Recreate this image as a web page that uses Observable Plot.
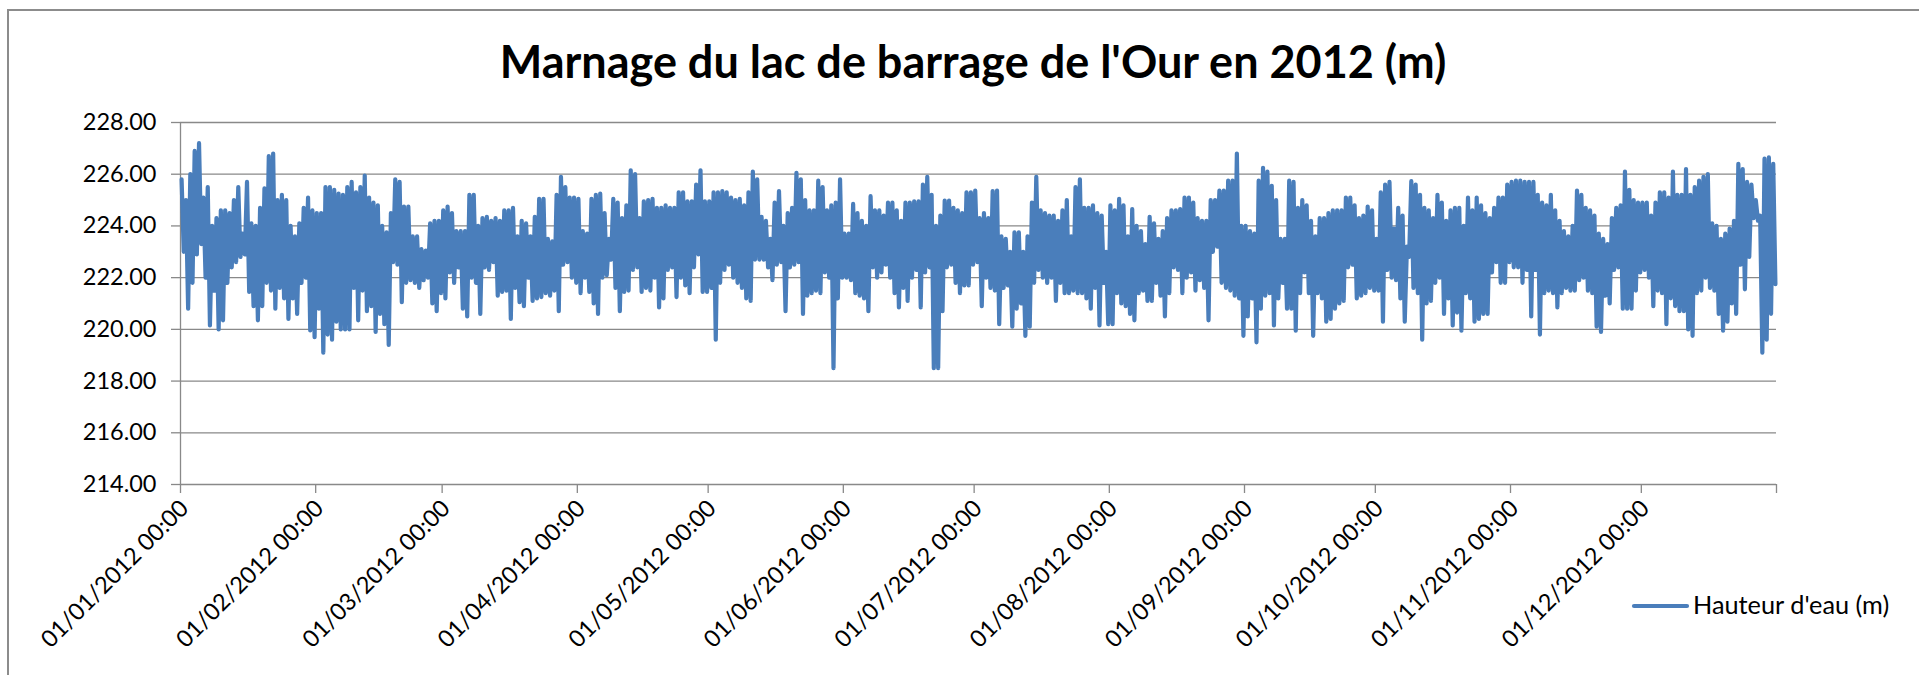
<!DOCTYPE html>
<html>
<head>
<meta charset="utf-8">
<script src="https://cdn.jsdelivr.net/npm/d3@7"></script>
<script src="https://cdn.jsdelivr.net/npm/@observablehq/plot@0.6"></script>
<style>
  html, body { margin: 0; padding: 0; background: #fff; }
  body { width: 1919px; height: 675px; overflow: hidden; position: relative; font-family: Lato, "Open Sans", sans-serif; }
  #frame { position: absolute; left: 7px; top: 9px; width: 2000px; height: 900px; border: 2px solid #8c8c8c; box-sizing: border-box; }
  #chart { position: absolute; left: 0; top: 0; }
  #overlay { position: absolute; left: 0; top: 0; pointer-events: none; }
</style>
</head>
<body>
<div id="frame"></div>
<div id="chart"></div>
<svg id="overlay" width="1919" height="675"></svg>
<script>
// ---- Data: daily high and low water level (m) ----
const chartTitle = "Marnage du lac de barrage de l'Our en 2012 (m)";
const seriesName = "Hauteur d'eau (m)";
const yTicks = [214, 216, 218, 220, 222, 224, 226, 228];
const monthLabels = ["01/01/2012 00:00","01/02/2012 00:00","01/03/2012 00:00","01/04/2012 00:00","01/05/2012 00:00","01/06/2012 00:00","01/07/2012 00:00","01/08/2012 00:00","01/09/2012 00:00","01/10/2012 00:00","01/11/2012 00:00","01/12/2012 00:00"];

const hiJan = [225.8,225.0,226.0,226.9,227.2,225.1,225.5,224.0,224.3,224.6,224.6,224.5,225.0,225.5,223.7,225.7,224.1,224.0,224.7,225.45,226.7,226.8,225.0,225.2,225.0,224.0,223.6,224.1,224.7,225.1,224.6];
const loJan = [223.0,220.8,221.8,222.9,223.3,222.0,220.15,221.5,220.0,220.35,221.8,222.4,222.6,222.8,222.9,221.45,220.9,220.35,220.9,221.8,221.5,220.8,221.6,221.2,220.4,221.2,220.6,221.8,222.0,219.96,219.7];
const hiFeb = [224.5,224.5,225.5,225.5,225.4,225.25,225.2,225.5,225.7,225.3,225.5,225.95,225.1,224.9,224.8,224.0,223.75,224.5,225.8,225.7,224.75,224.75,223.6,223.6,223.1,223.05,224.1,224.2,224.2];
const loFeb = [220.8,219.1,219.8,219.6,220.3,220.0,220.0,220.0,221.6,220.35,221.5,220.7,220.9,219.9,220.6,220.2,219.4,222.6,222.5,221.05,221.8,221.9,221.8,221.6,221.9,222.0,221.0,220.7,221.4];
const hiMar = [224.6,224.75,224.5,223.8,223.8,223.8,225.2,225.2,224.0,224.3,224.35,224.2,224.3,224.2,224.6,224.6,224.7,223.6,224.2,224.1,223.6,224.35,225.05,225.05,223.5,223.4,225.2,225.9,225.5,225.1,225.1];
const loMar = [221.2,222.2,221.8,222.4,220.8,220.5,222.0,221.8,220.6,222.4,222.3,222.6,221.3,221.45,221.5,220.4,221.6,221.05,220.9,222.0,221.1,221.2,221.25,221.4,221.3,221.5,220.7,222.5,222.6,222.0,221.8];
const hiApr = [225.05,223.8,223.7,225.05,225.2,225.25,224.5,223.5,225.05,224.9,224.3,224.8,226.15,226.0,224.3,224.95,225.0,225.05,224.7,224.7,224.8,224.7,224.7,225.3,225.3,224.95,224.95,225.6,226.15,224.95];
const loApr = [221.4,222.0,221.45,221.0,220.6,222.0,222.1,222.7,221.6,220.7,221.45,221.5,222.3,222.4,221.45,221.6,221.5,222.0,220.85,221.2,222.3,222.4,221.25,222.0,221.7,221.4,222.4,222.9,221.45,221.45];
const hiMay = [224.95,225.3,225.3,225.35,225.3,225.1,225.0,225.05,224.8,225.3,226.1,225.8,224.35,224.2,223.5,224.9,225.35,224.0,224.5,224.7,226.05,225.8,225.0,224.6,224.6,225.75,225.5,224.6,224.8,224.9,225.8];
const loMay = [221.6,219.6,221.8,222.3,222.5,222.0,221.8,221.6,221.2,221.1,222.7,222.7,222.7,222.4,221.9,222.5,222.6,220.7,222.4,222.5,222.6,220.6,221.3,221.4,221.5,221.4,222.2,222.0,218.5,221.2,222.0];
const hiJun = [223.7,223.7,224.85,224.5,224.2,224.0,225.15,224.6,224.6,224.4,224.9,224.9,224.6,224.2,224.9,224.9,224.95,224.95,225.6,225.9,225.2,224.0,224.4,224.98,224.98,224.7,224.6,224.5,225.3,225.3];
const loJun = [222.0,221.9,221.4,221.3,221.2,220.7,222.4,222.0,222.2,222.5,222.0,221.4,220.85,221.6,221.1,222.0,222.3,220.85,222.2,222.4,218.5,218.5,220.7,222.4,222.5,221.8,221.4,221.7,221.7,222.5];
const hiJul = [225.37,224.3,224.5,224.3,225.35,225.37,223.6,223.5,223.0,223.75,223.75,223.0,223.6,224.9,225.9,224.6,224.5,224.4,224.4,224.2,224.6,225.0,223.6,225.5,225.8,224.7,224.7,224.8,224.5,224.4,223.0];
const loJul = [222.6,220.9,222.0,221.6,221.5,220.2,221.6,221.7,220.1,220.8,221.0,219.75,220.1,221.8,222.3,222.0,221.8,222.0,221.1,221.8,221.4,221.4,221.5,221.4,221.4,221.2,220.8,221.6,220.15,221.8,220.2];
const hiAug = [224.8,224.6,225.05,224.8,223.6,224.65,224.0,223.8,223.3,224.35,224.1,223.5,223.8,224.3,224.6,224.6,224.65,225.1,225.1,224.9,224.3,224.2,224.2,225.0,225.0,225.37,225.37,225.75,225.75,226.8,224.0];
const loAug = [220.2,221.4,221.0,220.9,220.6,220.35,221.4,221.5,221.1,221.1,221.8,221.3,220.5,221.4,222.4,222.3,221.4,222.0,222.2,221.5,221.9,221.6,220.35,223.0,223.2,221.8,221.6,221.5,221.3,221.2,219.75];
const hiSep = [224.0,223.8,223.7,225.75,226.25,226.1,225.55,225.0,223.5,223.5,225.75,225.7,224.7,225.0,224.8,224.2,223.6,224.3,224.3,224.5,224.6,224.6,224.6,225.1,225.1,224.8,224.3,224.4,224.75,224.6];
const loSep = [220.5,221.2,219.5,220.8,221.3,221.4,220.15,221.2,221.8,220.8,220.8,219.95,221.4,222.2,221.4,219.75,221.4,221.2,220.3,220.4,220.8,221.0,221.1,222.4,222.5,221.2,221.3,221.4,221.6,221.5];
const hiOct = [223.5,225.3,225.6,225.7,223.9,224.7,224.4,223.2,225.73,225.6,225.2,224.7,224.6,224.3,225.2,224.9,224.2,224.6,224.7,224.7,224.0,225.1,224.6,225.1,224.8,224.5,224.3,224.7,225.1,225.1,225.6];
const loOct = [221.5,220.3,222.3,222.0,221.9,221.2,220.3,222.8,221.6,221.4,219.6,221.0,221.1,221.8,222.0,220.6,221.2,220.15,220.65,219.95,221.4,221.2,220.3,220.4,220.6,220.6,222.2,222.6,221.8,221.8,222.6];
const hiNov = [225.7,225.75,225.75,225.7,225.7,225.7,225.2,224.9,224.8,225.2,224.6,224.2,223.8,223.6,224.0,225.37,225.2,224.7,224.6,224.4,223.7,223.5,223.3,224.3,224.7,224.8,226.1,225.4,225.0,224.9];
const loNov = [222.4,222.4,221.8,222.3,220.5,222.3,219.8,221.4,221.5,221.4,220.85,221.4,221.6,221.5,221.5,221.9,222.0,221.5,221.4,220.1,219.9,221.3,221.0,222.3,222.4,220.8,220.8,220.8,221.5,222.2];
const hiDec = [224.9,224.9,224.4,224.9,225.3,225.3,225.1,226.1,225.2,225.2,226.2,225.2,225.5,225.75,225.9,226.0,224.1,224.0,223.5,223.7,223.9,224.2,226.4,226.2,225.7,225.6,225.0,224.4,226.6,226.65,226.4];
const loDec = [222.3,222.0,220.9,221.5,221.4,220.2,221.2,220.9,220.7,220.7,220.0,219.75,221.4,221.5,222.0,221.6,221.5,220.6,219.95,220.3,221.0,220.6,222.5,221.55,222.8,224.3,224.2,219.1,219.6,220.6,221.75];

const highs = [hiJan, hiFeb, hiMar, hiApr, hiMay, hiJun, hiJul, hiAug, hiSep, hiOct, hiNov, hiDec];
const lows  = [loJan, loFeb, loMar, loApr, loMay, loJun, loJul, loAug, loSep, loOct, loNov, loDec];

// Build the time series table: a high reading then a low reading each day
const series = [];
highs.forEach((hiArr, m) => {
  hiArr.forEach((h, i) => {
    series.push({t: new Date(Date.UTC(2012, m, i + 1, 6)), v: h});
    series.push({t: new Date(Date.UTC(2012, m, i + 1, 18)), v: lows[m][i]});
  });
});

const xStart = new Date(Date.UTC(2012, 0, 1));
const xEnd = new Date(Date.UTC(2013, 0, 1));
const monthTicks = monthLabels.map((_, i) => new Date(Date.UTC(2012, i, 1)));
const labelOf = new Map(monthTicks.map((d, i) => [+d, monthLabels[i]]));

const grey = "#898989";
const blue = "#4a7ebb";

const chart = Plot.plot({
  width: 1919,
  height: 675,
  marginLeft: 180,
  marginRight: 143,
  marginTop: 122,
  marginBottom: 191,
  style: {fontFamily: "Lato, sans-serif", background: "transparent", color: "#000", overflow: "visible"},
  x: {type: "utc", domain: [xStart, xEnd], label: null},
  y: {domain: [214, 228], label: null},
  marks: [
    Plot.gridY(yTicks, {stroke: grey, strokeOpacity: 1, strokeWidth: 1.3}),
    Plot.ruleX([xStart], {stroke: grey, strokeWidth: 1.3}),
    Plot.axisY(yTicks, {label: null, tickSize: 9, tickPadding: 15, stroke: grey, fill: "#000", fontSize: 23.5, tickFormat: d => d.toFixed(2), strokeWidth: 1.3}),
    // tick marks only
    Plot.axisX([...monthTicks, xEnd], {label: null, tickSize: 9, stroke: grey, strokeWidth: 1.3, tickFormat: () => ""}),
    // rotated labels only
    Plot.axisX(monthTicks, {label: null, tickSize: 0, tickPadding: 20, dx: 4, tickRotate: -45, fill: "#000", fontSize: 23.5, tickFormat: d => labelOf.get(+d)}),
    Plot.lineY(series, {x: "t", y: "v", stroke: blue, strokeWidth: 4.2, strokeLinejoin: "round", strokeLinecap: "round"})
  ]
});
document.getElementById("chart").appendChild(chart);

// Title and legend
const ov = d3.select("#overlay");
ov.append("text").attr("x", 973).attr("y", 78).attr("text-anchor", "middle")
  .attr("font-family", "Lato, sans-serif").attr("font-weight", "bold").attr("font-size", 45).attr("fill", "#000")
  .text(chartTitle);
ov.append("line").attr("x1", 1634).attr("x2", 1687).attr("y1", 606).attr("y2", 606)
  .attr("stroke", blue).attr("stroke-width", 4.2).attr("stroke-linecap", "round");
ov.append("text").attr("x", 1693).attr("y", 614).attr("font-family", "Lato, sans-serif").attr("font-size", 25.3).attr("fill", "#000")
  .text(seriesName);
</script>
</body>
</html>
